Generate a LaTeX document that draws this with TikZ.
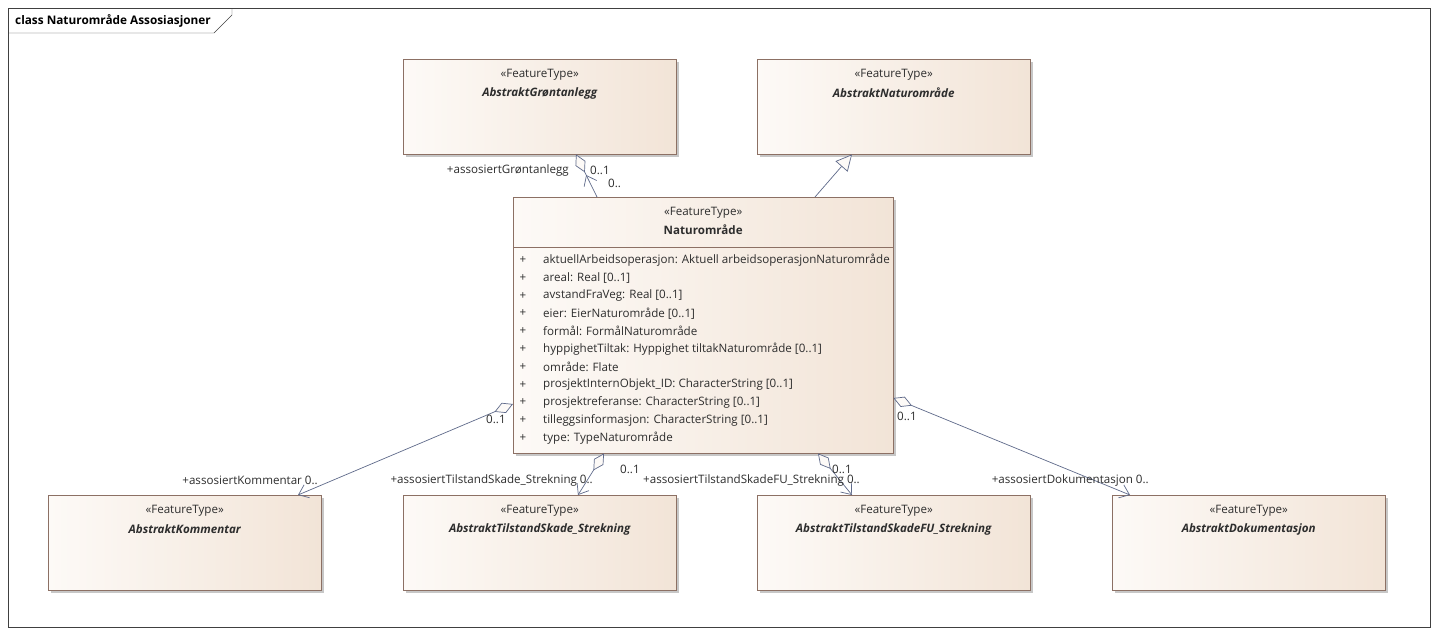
\documentclass[tikz,border=0pt]{standalone}
\usepackage{fontspec}
\setmainfont{Open Sans}
\usetikzlibrary{arrows.meta,calc,shadows}

\definecolor{boxlight}{RGB}{253,250,247}
\definecolor{boxdark}{RGB}{242,228,215}
\definecolor{boxborder}{RGB}{140,112,100}
\definecolor{linecol}{RGB}{95,106,138}
\definecolor{txtcol}{RGB}{45,45,45}

\begin{document}
\begin{tikzpicture}[
    x=1pt, y=-1pt,
    every node/.style={font=\fontsize{11.6}{14}\selectfont, text=txtcol, inner sep=0pt},
    classbox/.style={rectangle, draw=boxborder, left color=boxlight, right color=boxdark, anchor=north west,
        minimum width=273pt, minimum height=95pt,
        drop shadow={shadow xshift=3pt, shadow yshift=-3pt, fill=black, opacity=0.22}},
    cname/.style={font=\fontsize{11.6}{14}\selectfont\bfseries\itshape},
    attr/.style={anchor=west},
    assoc/.style={draw=linecol, line width=0.7pt},
    aggr/.style={assoc, {Diamond[length=20pt,width=11pt,fill=boxlight]}-{Straight Barb[length=9pt,width=14pt]}}
]
    \useasboundingbox (0,0) rectangle (1438,635);
    \fill[white] (0,0) rectangle (1438,635);

    % diagram frame
    \draw[black!75] (8,8) rectangle (1430,627);
    \draw[black!75] (8,33) -- (214,33) -- (232,15) -- (232,8);
    \node[anchor=west, font=\fontsize{11.8}{14}\selectfont\bfseries, text=black] (title) at (15,21) {class Naturområde Assosiasjoner};

    % classes
    \node[classbox] (gront) at (403,59) {};
    \node (grontst) at ($(gront.north)+(0,16)$) {«FeatureType»};
    \node[cname] (grontnm) at ($(gront.north)+(0,34)$) {AbstraktGrøntanlegg};

    \node[classbox] (natur) at (757,59) {};
    \node (naturst) at ($(natur.north)+(0,16)$) {«FeatureType»};
    \node[cname] (naturnm) at ($(natur.north)+(0,34)$) {AbstraktNaturområde};

    \node[classbox, minimum width=380pt, minimum height=256pt] (omrade) at (513,197) {};
    \node (omradest) at ($(omrade.north)+(0,16)$) {«FeatureType»};
    \node[font=\fontsize{11.6}{14}\selectfont\bfseries] (omradenm) at ($(omrade.north)+(0,33)$) {Naturområde};
    \draw[boxborder] ($(omrade.north west)+(0,50)$) -- ($(omrade.north east)+(0,50)$);
    \foreach \attr [count=\i from 0] in {{aktuellArbeidsoperasjon: Aktuell arbeidsoperasjonNaturområde},
        {areal: Real [0..1]}, {avstandFraVeg: Real [0..1]}, {eier: EierNaturområde [0..1]},
        {formål: FormålNaturområde}, {hyppighetTiltak: Hyppighet tiltakNaturområde [0..1]},
        {område: Flate}, {prosjektInternObjekt\_ID: CharacterString [0..1]},
        {prosjektreferanse: CharacterString [0..1]}, {tilleggsinformasjon: CharacterString [0..1]},
        {type: TypeNaturområde}}{
        \node (plus\i) at ($(omrade.north west)+(10,63+17.8*\i)$) {+};
        \node[attr] (attr\i) at ($(omrade.north west)+(30,63+17.8*\i)$) {\attr};
    }

    \node[classbox] (kommentar) at (48,495) {};
    \node (kommentarst) at ($(kommentar.north)+(0,16)$) {«FeatureType»};
    \node[cname] (kommentarnm) at ($(kommentar.north)+(0,34)$) {AbstraktKommentar};

    \node[classbox] (skade) at (403,495) {};
    \node (skadest) at ($(skade.north)+(0,16)$) {«FeatureType»};
    \node[cname] (skadenm) at ($(skade.north)+(0,34)$) {AbstraktTilstandSkade\_Strekning};

    \node[classbox] (skadefu) at (757,495) {};
    \node (skadefust) at ($(skadefu.north)+(0,16)$) {«FeatureType»};
    \node[cname] (skadefunm) at ($(skadefu.north)+(0,34)$) {AbstraktTilstandSkadeFU\_Strekning};

    \node[classbox] (dok) at (1112,495) {};
    \node (dokst) at ($(dok.north)+(0,16)$) {«FeatureType»};
    \node[cname] (doknm) at ($(dok.north)+(0,34)$) {AbstraktDokumentasjon};

    % generalisation
    \draw[assoc, -{Triangle[open, length=16pt, width=16pt, fill=boxlight]}] ($(omrade.north west)+(302,0)$) -- ($(natur.south west)+(95,0)$);

    % associations
    \draw[assoc, -{Straight Barb[length=9pt,width=14pt,sep=3pt] Diamond[length=20pt,width=11pt,fill=boxlight]}] ($(omrade.north west)+(84,0)$) -- ($(gront.south west)+(173,0)$);
    \draw[aggr] ($(omrade.north west)+(0,207)$) -- ($(kommentar.north west)+(250,0)$);
    \draw[aggr] ($(omrade.south west)+(91,0)$) -- ($(skade.north west)+(175,0)$);
    \draw[aggr] ($(omrade.south west)+(305,0)$) -- ($(skadefu.north west)+(95,0)$);
    \draw[aggr] ($(omrade.north east)+(0,201)$) -- ($(dok.north west)+(18,0)$);

    % role names and multiplicities
    \node[anchor=east] (rgront) at (569,170) {+assosiertGrøntanlegg};
    \node[anchor=west] (mgront) at (590,170) {0..1};
    \node[anchor=west] (mgront2) at (608,183) {0..};
    \node[anchor=west] (mkomm) at (486,419) {0..1};
    \node[anchor=east] (rkomm) at (318,480) {+assosiertKommentar 0..};
    \node[anchor=east] (rskade) at (593,480) {+assosiertTilstandSkade\_Strekning 0..};
    \node[anchor=west] (mskade) at (620,469) {0..1};
    \node[anchor=west] (rskadefu) at (643,480) {+assosiertTilstandSkadeFU\_Strekning 0..};
    \node[anchor=west] (mskadefu) at (832,469) {0..1};
    \node[anchor=west] (mdok) at (897,416) {0..1};
    \node[anchor=east] (rdok) at (1149,480) {+assosiertDokumentasjon 0..};
\end{tikzpicture}
\end{document}
